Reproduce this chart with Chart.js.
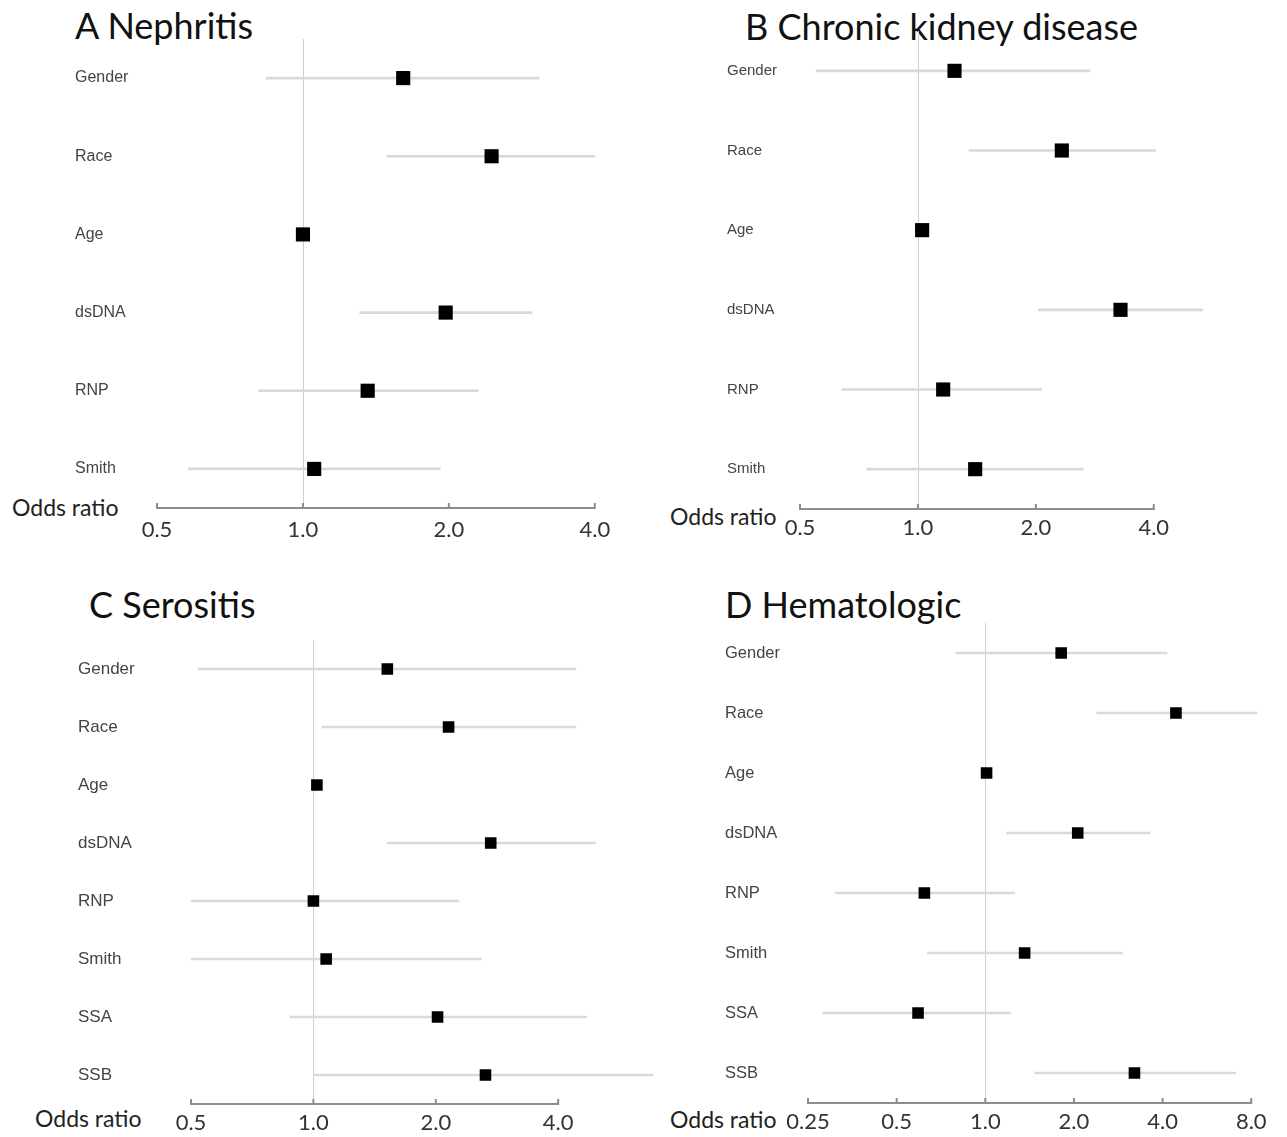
<!DOCTYPE html>
<html>
<head>
<meta charset="utf-8">
<script src="https://cdn.jsdelivr.net/npm/chart.js@4.4.1/dist/chart.umd.min.js"></script>
<style>
  body { margin: 0; background: #fff; }
  #page { position: relative; width: 1287px; height: 1137px; overflow: hidden; background: #fff; }
  .box { position: absolute; }
  .title { position: absolute; font-family: Lato, sans-serif; font-size: 36px; line-height: 1; color: #111; white-space: nowrap; }
  .xlab { position: absolute; font-family: Lato, sans-serif; font-size: 23px; line-height: 1; color: #222; white-space: nowrap; }
</style>
</head>
<body>
<div id="page">
  <div class="title" style="left:75px;top:7px">A Nephritis</div>
  <div class="title" style="left:745px;top:8px">B Chronic kidney disease</div>
  <div class="title" style="left:89px;top:586px">C Serositis</div>
  <div class="title" style="left:725px;top:586px">D Hematologic</div>

  <div class="xlab" style="left:12px;top:496px">Odds ratio</div>
  <div class="xlab" style="left:670px;top:505px">Odds ratio</div>
  <div class="xlab" style="left:35px;top:1107px">Odds ratio</div>
  <div class="xlab" style="left:670px;top:1108px">Odds ratio</div>

  <div class="box" style="left:75px;top:24px;width:550px;height:524px"><canvas id="chartA"></canvas></div>
  <div class="box" style="left:727px;top:16px;width:509px;height:533px"><canvas id="chartB"></canvas></div>
  <div class="box" style="left:78px;top:625px;width:604px;height:512px"><canvas id="chartC"></canvas></div>
  <div class="box" style="left:725px;top:608px;width:559px;height:529px"><canvas id="chartD"></canvas></div>
</div>

<script>
// odds ratios with 95% CI
const labelsA = ['Gender', 'Race', 'Age', 'dsDNA', 'RNP', 'Smith'];
const orA = [1.61, 2.45, 1.0, 1.97, 1.36, 1.055];
const loA = [0.84, 1.49, 0.99, 1.31, 0.81, 0.58];
const hiA = [3.07, 4.0, 1.01, 2.97, 2.30, 1.92];

const labelsB = ['Gender', 'Race', 'Age', 'dsDNA', 'RNP', 'Smith'];
const orB = [1.24, 2.33, 1.025, 3.29, 1.16, 1.40];
const loB = [0.55, 1.35, 1.01, 2.03, 0.64, 0.74];
const hiB = [2.75, 4.04, 1.04, 5.33, 2.07, 2.64];

const labelsC = ['Gender', 'Race', 'Age', 'dsDNA', 'RNP', 'Smith', 'SSA', 'SSB'];
const orC = [1.52, 2.15, 1.02, 2.73, 1.0, 1.075, 2.02, 2.65];
const loC = [0.52, 1.05, 1.01, 1.52, 0.44, 0.44, 0.876, 1.0];
const hiC = [4.42, 4.42, 1.03, 4.94, 2.28, 2.59, 4.70, 6.85];

const labelsD = ['Gender', 'Race', 'Age', 'dsDNA', 'RNP', 'Smith', 'SSA', 'SSB'];
const orD = [1.81, 4.44, 1.01, 2.06, 0.621, 1.36, 0.591, 3.21];
const loD = [0.795, 2.39, 1.0, 1.18, 0.31, 0.637, 0.281, 1.47];
const hiD = [4.14, 8.36, 1.02, 3.62, 1.26, 2.92, 1.22, 7.09];

const ticksABC = [0.5, 1, 2, 4];
const ticksD = [0.25, 0.5, 1, 2, 4, 8];

// reference line at OR = 1 and the bracket-like x axis
const forestAxes = {
    id: 'forestAxes',
    beforeDatasetsDraw(chart) {
        const { ctx, chartArea } = chart;
        const x = chart.scales.x;
        const x1 = Math.round(x.getPixelForValue(1)) + 0.5;
        ctx.save();
        ctx.strokeStyle = '#cfcfcf';
        ctx.lineWidth = 1;
        ctx.beginPath();
        ctx.moveTo(x1, chartArea.top);
        ctx.lineTo(x1, chartArea.bottom);
        ctx.stroke();

        const px = x.ticks.map(t => x.getPixelForValue(t.value));
        const yb = chartArea.bottom;
        ctx.strokeStyle = '#8c8c8c';
        ctx.lineWidth = 2;
        ctx.beginPath();
        ctx.moveTo(px[0], yb);
        ctx.lineTo(px[px.length - 1], yb);
        px.forEach(p => {
            ctx.moveTo(p, yb + 1);
            ctx.lineTo(p, yb - 5);
        });
        ctx.stroke();
        ctx.restore();
    }
};

function forest(id, labels, or, lo, hi, xTicks, o) {
    new Chart(document.getElementById(id), {
        type: 'bar',
        data: {
            labels: labels,
            datasets: [{
                type: 'line',
                indexAxis: 'y',
                data: or,
                showLine: false,
                pointStyle: 'rect',
                pointRadius: o.radius,
                pointBackgroundColor: '#000',
                pointBorderWidth: 0,
                order: 1
            }, {
                indexAxis: 'y',
                data: labels.map((_, i) => [lo[i], hi[i]]),
                backgroundColor: '#d9d9d9',
                borderWidth: 0,
                barThickness: 2,
                order: 2
            }]
        },
        options: {
            indexAxis: 'y',
            responsive: true,
            maintainAspectRatio: false,
            animation: false,
            layout: { padding: { top: 15, right: 25, left: 0, bottom: 0 } },
            plugins: { legend: { display: false }, tooltip: { enabled: false } },
            scales: {
                x: {
                    type: 'logarithmic',
                    min: xTicks[0],
                    max: o.xMax,
                    grid: { display: false, drawTicks: false },
                    border: { display: false },
                    afterBuildTicks: s => { s.ticks = xTicks.map(v => ({ value: v })); },
                    afterFit: s => { s.height = o.xh; },
                    ticks: {
                        autoSkip: false,
                        maxRotation: 0,
                        padding: o.tickPad,
                        color: '#333',
                        font: { family: 'Lato', size: 22 },
                        callback: v => v < 0.5 ? v.toFixed(2) : v.toFixed(1)
                    }
                },
                y: {
                    grid: { display: false, drawTicks: false },
                    border: { display: false },
                    afterFit: s => { s.width = o.yw; },
                    ticks: {
                        crossAlign: 'far',
                        color: '#444',
                        font: { family: "'Liberation Sans', Arial", size: o.labelSize }
                    }
                }
            }
        },
        plugins: [forestAxes]
    });
}

forest('chartA', labelsA, orA, loA, hiA, ticksABC, { xMax: 4.1, yw: 82, xh: 40, tickPad: 9, radius: 10, labelSize: 16 });
forest('chartB', labelsB, orB, loB, hiB, ticksABC, { xMax: 5.6, yw: 73, xh: 40, tickPad: 6, radius: 10, labelSize: 15 });
forest('chartC', labelsC, orC, loC, hiC, ticksABC, { xMax: 7.0, yw: 113, xh: 33, tickPad: 6, radius: 8.2, labelSize: 17 });
forest('chartD', labelsD, orD, loD, hiD, ticksD, { xMax: 8.5, yw: 83, xh: 34, tickPad: 6, radius: 8.2, labelSize: 16.5 });
</script>
</body>
</html>
